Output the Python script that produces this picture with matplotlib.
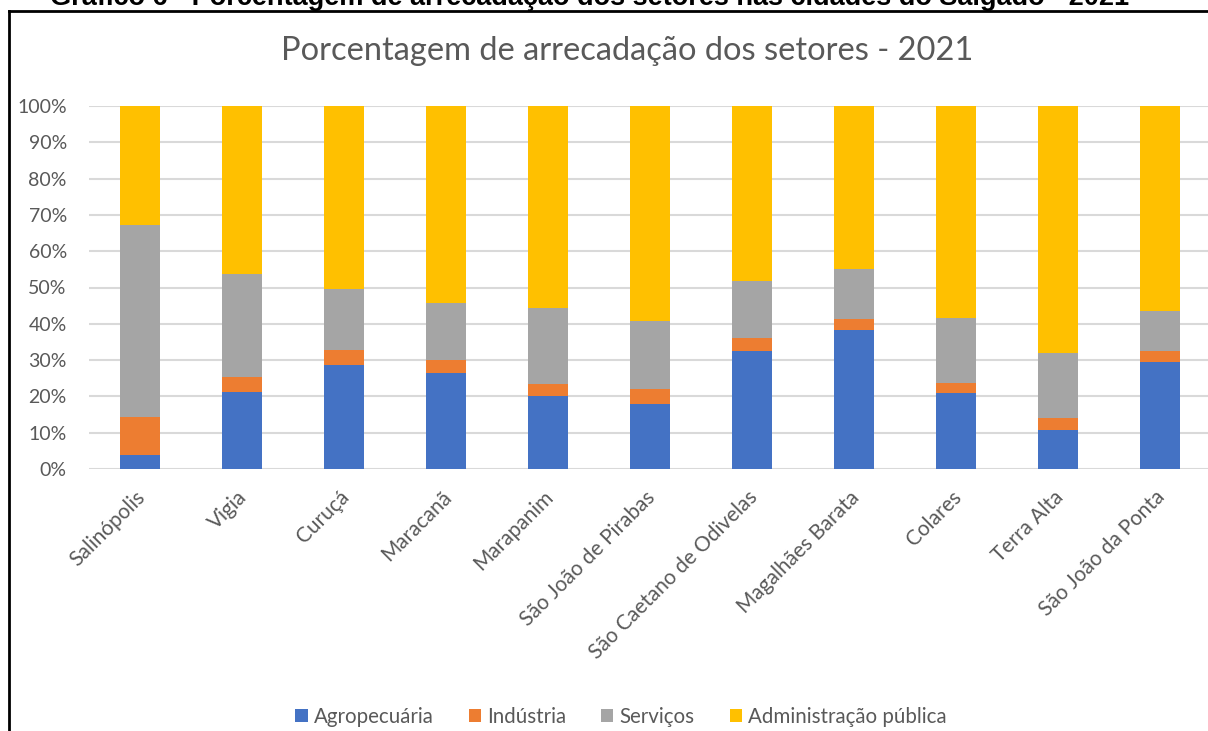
import matplotlib
matplotlib.use("Agg")
import matplotlib.pyplot as plt
from matplotlib.lines import Line2D
from matplotlib.ticker import PercentFormatter
from matplotlib.transforms import ScaledTranslation
import numpy as np

cidades = ["Salinópolis", "Vigia", "Curuçá", "Maracanã", "Marapanim",
           "São João de Pirabas", "São Caetano de Odivelas", "Magalhães Barata",
           "Colares", "Terra Alta", "São João da Ponta"]
agropecuaria = [3.8, 21.3, 28.7, 26.4, 20.2, 17.9, 32.6, 38.4, 21.0, 10.8, 29.4]
industria = [10.4, 4.1, 4.2, 3.5, 3.3, 4.2, 3.5, 2.8, 2.7, 3.3, 3.1]
servicos = [53.0, 28.4, 16.7, 15.8, 20.9, 18.6, 15.8, 14.0, 18.0, 17.9, 11.0]
administracao = [32.8, 46.2, 50.4, 54.3, 55.6, 59.3, 48.1, 44.8, 58.3, 68.0, 56.5]
series_names = ["Agropecuária", "Indústria", "Serviços", "Administração pública"]
colors = ["#4472C4", "#ED7D31", "#A5A5A5", "#FFC000"]
titulo = "Porcentagem de arrecadação dos setores - 2021"
cabecalho = "Gráfico 6 - Porcentagem de arrecadação dos setores nas cidades do Salgado - 2021"

plt.rcParams['font.family'] = ['Lato', 'DejaVu Sans']
W, H = 1208, 731
fig = plt.figure(figsize=(W / 100, H / 100), dpi=100)
fig.patch.set_facecolor("white")

ax_left, ax_right = 89, 1208
ax_top, ax_bottom = 106, 469
ax = fig.add_axes([ax_left / W, 1 - ax_bottom / H, (ax_right - ax_left) / W, (ax_bottom - ax_top) / H])

x = np.arange(len(cidades))
data = [agropecuaria, industria, servicos, administracao]
bottom = np.zeros(len(cidades))
for vals, name, c in zip(data, series_names, colors):
    v = np.array(vals, dtype=float)
    ax.bar(x, v, 0.39, bottom=bottom, color=c, label=name, zorder=3)
    bottom += v

ax.set_ylim(0, 100)
ax.set_xlim(-0.5, -0.5 + (ax_right - ax_left) / 102)
ax.set_yticks(np.arange(0, 101, 10))
ax.yaxis.set_major_formatter(PercentFormatter(decimals=0))
ax.grid(axis='y', color="#D9D9D9", linewidth=1.5, zorder=0)
for s in ax.spines.values():
    s.set_visible(False)
ax.tick_params(axis='both', length=0, colors="#595959", labelsize=14)
ax.tick_params(axis='y', pad=16)
ax.set_xticks(x)
ax.set_xticklabels(cidades, rotation=45, ha='right', rotation_mode='anchor', fontsize=15, color="#595959")
ax.tick_params(axis='x', pad=13)
shift = ScaledTranslation(-5 / 100, 0, fig.dpi_scale_trans)
for lab in ax.get_xticklabels():
    lab.set_transform(lab.get_transform() + shift)

fig.text(627 / W, 1 - 51 / H, titulo, ha='center', va='center', fontsize=23.5, color="#595959")

fig.text(590 / W, 1 - 5 / H, cabecalho, ha='center', va='baseline', fontsize=19.5,
         fontweight='bold', family=['Liberation Sans', 'DejaVu Sans'], color='black')

fig.add_artist(Line2D([9 / W, 9 / W], [0, 1 - 11 / H], transform=fig.transFigure, color='black', linewidth=2))
fig.add_artist(Line2D([9 / W, 1], [1 - 11 / H, 1 - 11 / H], transform=fig.transFigure, color='black', linewidth=2))

handles, labels = ax.get_legend_handles_labels()
leg = fig.legend(handles, labels, loc='center', bbox_to_anchor=(621 / W, 1 - 717 / H), ncol=4,
                 frameon=False, fontsize=14.8, handlelength=0.6, handleheight=0.6,
                 handletextpad=0.3, columnspacing=1.7, labelcolor="#595959")

fig.savefig("out.png", dpi=100, facecolor="white")
